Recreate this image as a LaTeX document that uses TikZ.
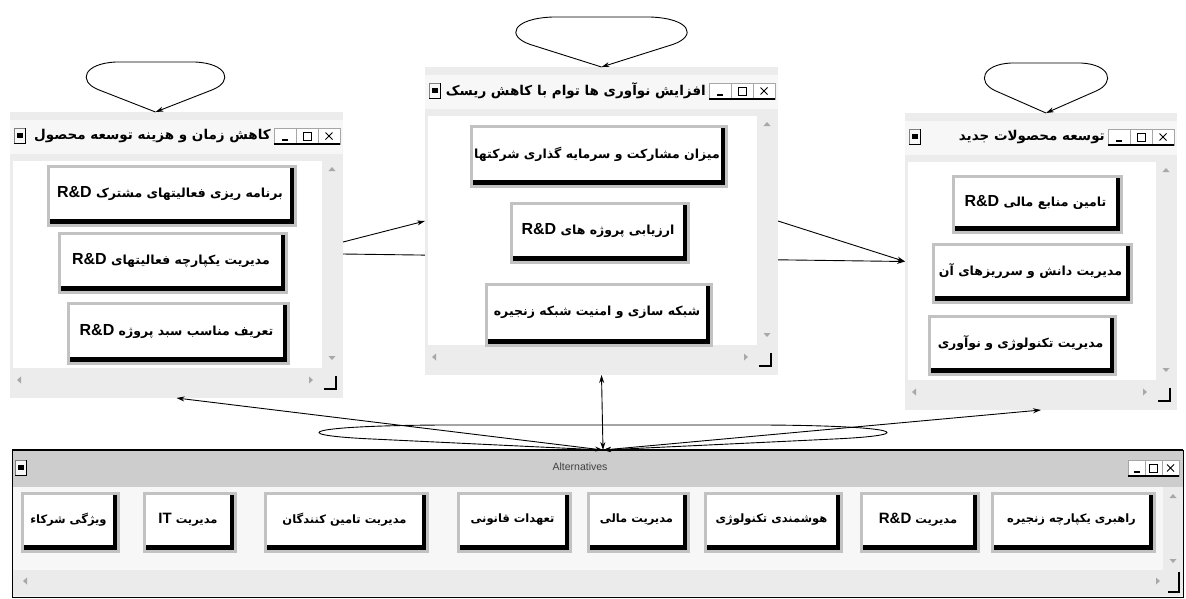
\documentclass[tikz,border=0pt]{standalone}
\usepackage{fontspec}
\setmainfont{Liberation Sans}
\newfontfamily\fa[Script=Arabic]{DejaVu Sans}
\newfontfamily\lat{Liberation Sans}
\TeXXeTstate=1
\usetikzlibrary{arrows.meta,calc}
\definecolor{winbg}{HTML}{ECECEC}
\definecolor{titlebg}{HTML}{F7F7F7}
\definecolor{sbar}{HTML}{EBEBEB}
\definecolor{btnframe}{HTML}{C2C2C2}
\definecolor{altbar}{HTML}{CDCDCD}
\definecolor{altbg}{HTML}{F7F7F7}
\definecolor{arrowgray}{HTML}{A8A8A8}
\newcommand\RD{\beginL{\lat\bfseries\fontsize{16}{18}\selectfont R\&D}\endL}
\newcommand\RDn{\beginL{\lat\fontsize{15}{17}\selectfont R\&D}\endL}
\newcommand\ITn{\beginL{\lat\fontsize{15}{17}\selectfont IT}\endL}
\tikzset{
 conn/.style={line width=0.9pt,-{Stealth[length=8pt,width=5pt]}},
 dconn/.style={line width=0.9pt,{Stealth[length=8pt,width=5pt]}-{Stealth[length=8pt,width=5pt]}},
 winnode/.style={rectangle,inner sep=0pt,outer sep=0pt},
 btntext/.style={inner sep=0pt,font=\fa\bfseries\fontsize{12.5}{15}\selectfont},
 altbtntext/.style={inner sep=0pt,font=\fa\bfseries\fontsize{11.5}{13}\selectfont},
 titletext/.style={inner sep=0pt,font=\fa\bfseries\fontsize{13.5}{16}\selectfont},
}
\newcommand\btn[7][btntext]{%
 \fill[btnframe] (#3,#4) rectangle (#5,#6);
 \fill[black] (#3+3,#4+3) rectangle (#5-3,#6-3);
 \fill[white] (#3+3,#4+3) rectangle (#5-7,#6-8);
 \node[#1] (#2) at ({(#3+#5)/2-2},{(#4+#6)/2-2.5}) {#7};
}
\newcommand\sysbox[2]{%
 \filldraw[fill=titlebg,draw=gray] (#1,#2) rectangle ++(11,15);
 \draw[black] (#1+11,#2) -- ++(0,15) -- ++(-11,0);
 \fill[black] (#1+2.5,#2+5) rectangle ++(6,5);
}
\newcommand\capbtns[3]{%
 \fill[white] (#1,#2) rectangle ++(3*#3,16);
 \draw[gray!70] (#1,#2) rectangle ++(3*#3,16);
 \draw[gray!70] (#1+#3,#2) -- ++(0,16) (#1+2*#3,#2) -- ++(0,16);
 \draw[black,line width=1.2pt] (#1,#2+16) -- ++(3*#3,0);
 \draw[black,line width=1.6pt] (#1+0.5*#3-3,#2+12) -- ++(6,0);
 \draw[black,line width=0.8pt] (#1+1.5*#3-4,#2+4) rectangle ++(8,8);
 \draw[black,line width=0.9pt] (#1+2.5*#3-3.5,#2+4.5) -- ++(7,7) (#1+2.5*#3+3.5,#2+4.5) -- ++(-7,7);
}
\newcommand\uparr[2]{\fill[arrowgray] (#1-3.5,#2+2) -- (#1+3.5,#2+2) -- (#1,#2-2) -- cycle;}
\newcommand\downarr[2]{\fill[arrowgray] (#1-3.5,#2-2) -- (#1+3.5,#2-2) -- (#1,#2+2) -- cycle;}
\newcommand\leftarr[2]{\fill[arrowgray] (#1+2,#2-3.5) -- (#1+2,#2+3.5) -- (#1-2,#2) -- cycle;}
\newcommand\rightarr[2]{\fill[arrowgray] (#1-2,#2-3.5) -- (#1-2,#2+3.5) -- (#1+2,#2) -- cycle;}
\newcommand\topwin[6]{%
 \fill[winbg] (#1,#2) rectangle (#3,#4);
 \fill[titlebg] (#1,#2+8) rectangle (#3,#2+42);
 \fill[white] (#1+3,#2+49) rectangle (#3-21,#4-30);
 \sysbox{#1+4}{#2+16}
 \capbtns{#3-69}{#2+16}{22}
 \node[titletext,anchor=east] (#5) at (#3-72,#2+24) {#6};
 \uparr{#3-11}{#2+57}
 \downarr{#3-11}{#4-40}
 \leftarr{#1+9}{#4-18}
 \rightarr{#3-32}{#4-18}
 \draw[line width=1.3pt] (#3-7,#4-22) -- (#3-7,#4-9) -- (#3-19,#4-9);
}
\newcommand\selfloop[3]{%
 \draw[conn] (#1) -- ($(#1)+(-0.8*#2,-0.45*#3)$)
  .. controls ($(#1)+(-1.08*#2,-0.62*#3)$) and ($(#1)+(-1.0*#2,-0.97*#3)$) .. ($(#1)+(-0.55*#2,-#3)$)
  -- ($(#1)+(0.55*#2,-#3)$)
  .. controls ($(#1)+(1.0*#2,-0.97*#3)$) and ($(#1)+(1.08*#2,-0.62*#3)$) .. ($(#1)+(0.8*#2,-0.45*#3)$)
  -- (#1);}
\begin{document}
\begin{tikzpicture}[x=1pt,y=-1pt]
\useasboundingbox (0,0) rectangle (1186,598);
\fill[white] (0,0) rectangle (1186,598);
% window frames as named nodes
\node[winnode,minimum width=333pt,minimum height=286pt] (lw) at (176.5,255) {};
\node[winnode,minimum width=353pt,minimum height=308pt] (mw) at (601.5,221) {};
\node[winnode,minimum width=272pt,minimum height=297pt] (rw) at (1041,261.5) {};
\node[winnode,minimum width=1171pt,minimum height=147pt] (aw) at (597.5,523.5) {};
% connector passing behind the middle window
\draw[conn] ([yshift=1pt]lw.east) -- (rw.west);
% top windows
\topwin{10}{112}{343}{398}{lt1}{\beginR کاهش زمان و هزینه توسعه محصول\endR}
\topwin{425}{67}{778}{375}{mt1}{\beginR افزایش نوآوری ها توام با کاهش ریسک\endR}
\topwin{905}{113}{1177}{410}{rt1}{\beginR توسعه محصولات جدید\endR}
% buttons
\btn{lb1}{47}{165}{297}{227}{\beginR برنامه ریزی فعالیتهای مشترک \RD\endR}
\btn{lb2}{58}{232}{288}{294}{\beginR مدیریت یکپارچه فعالیتهای \RD\endR}
\btn{lb3}{67}{302}{290}{365}{\beginR تعریف  مناسب سبد پروژه \RD\endR}
\btn{mb1}{470}{125}{728}{188}{\beginR میزان مشارکت و سرمایه گذاری شرکتها\endR}
\btn{mb2}{510}{202}{690}{264}{\beginR ارزیابی پروژه های \RD\endR}
\btn{mb3}{485}{283}{713}{347}{\beginR شبکه سازی و امنیت شبکه زنجیره\endR}
\btn{rb1}{952}{175}{1123}{234}{\beginR تامین منابع مالی \RD\endR}
\btn{rb2}{932}{243}{1133}{304}{\beginR مدیریت دانش و سرریزهای آن\endR}
\btn{rb3}{928}{315}{1117}{376}{\beginR مدیریت تکنولوژی و نوآوری\endR}
% alternatives window
\fill[altbg] (12,450) rectangle (1183,597);
\fill[altbar] (12,450) rectangle (1183,487);
\fill[sbar] (12,570) rectangle (1183,596);
\fill[sbar] (1163,487) rectangle (1183,570);
\draw[black,line width=0.8pt] (12,450) rectangle (1183,597);
\draw[black,line width=2.5pt] (12,450) -- (1183,450);
\node[inner sep=0pt,font=\lat\fontsize{10.5}{12}\selectfont,text=black!75] (altt) at (580,467) {Alternatives};
\sysbox{15}{460}
\capbtns{1128}{460}{17}
\uparr{1173}{496}
\downarr{1173}{561}
\leftarr{25}{581}
\rightarr{1158}{581}
\draw[line width=1.3pt] (1179,572) -- (1179,592) -- (1168,592);
\btn[altbtntext]{a1}{21}{492}{120}{553}{\beginR ویژگی شرکاء\endR}
\btn[altbtntext]{a2}{143}{492}{237}{553}{\beginR مدیریت \ITn\endR}
\btn[altbtntext]{a3}{264}{492}{429}{553}{\beginR مدیریت تامین کنندگان\endR}
\btn[altbtntext]{a4}{457}{492}{572}{553}{\beginR تعهدات قانونی\endR}
\btn[altbtntext]{a5}{587}{492}{690}{553}{\beginR مدیریت مالی\endR}
\btn[altbtntext]{a6}{704}{492}{843}{553}{\beginR هوشمندی تکنولوژی\endR}
\btn[altbtntext]{a7}{860}{492}{980}{553}{\beginR مدیریت \RDn\endR}
\btn[altbtntext]{a8}{991}{492}{1156}{553}{\beginR راهبری یکپارچه زنجیره\endR}
% connectors between windows
\draw[conn] ([yshift=13pt]lw.east) -- (mw.west);
\draw[conn] (mw.east) -- (rw.west);
\coordinate (ac) at ([xshift=5.5pt]aw.north);
\draw[dconn] (ac) -- (lw.south);
\draw[dconn] (ac) -- (mw.south);
\draw[dconn] (ac) -- (rw.south);
% self loops
\coordinate (ltip) at ([xshift=-21pt]lw.north);
\coordinate (mtip) at (mw.north);
\coordinate (rtip) at ([xshift=5pt]rw.north);
\selfloop{ltip}{72}{50}
\selfloop{mtip}{89}{50}
\selfloop{rtip}{64}{50}
\selfloop{ac}{295}{25}
\end{tikzpicture}
\end{document}
